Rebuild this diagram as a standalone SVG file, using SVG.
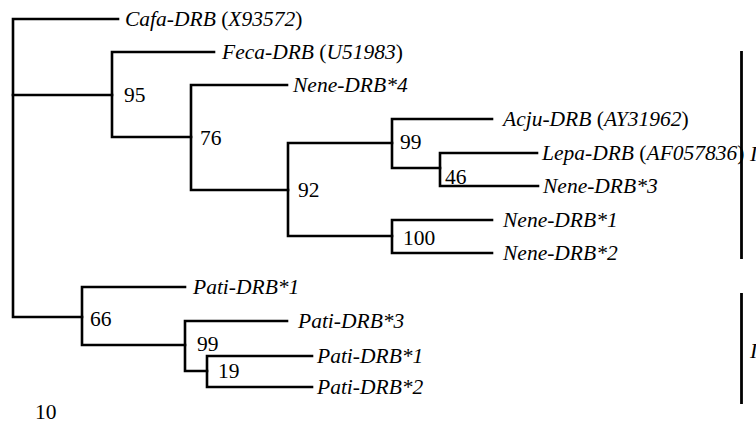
<svg xmlns="http://www.w3.org/2000/svg" width="756" height="423" viewBox="0 0 756 423">
<style>
.c{fill:none;stroke:#000;stroke-width:2.6;stroke-linejoin:miter;stroke-linecap:square}
.b{fill:none;stroke:#000;stroke-width:2.8}
text{font-family:"Liberation Serif","Times New Roman",serif;font-size:21.5px;fill:#000}
.i{font-style:italic}
</style>
<rect width="756" height="423" fill="#fff"/>
<g id="connectors">
<path class="c" d="M118,19H13V317H82"/>
<path class="c" d="M13,95H112"/>
<path class="c" d="M214,52H112V137H191"/>
<path class="c" d="M287,85H191V190H288"/>
<path class="c" d="M392,143H288V236H392"/>
<path class="c" d="M492,119H392V168H440"/>
<path class="c" d="M537,153H440V186H538"/>
<path class="c" d="M492,220H392V253H492"/>
<path class="c" d="M185,287H82V345H185"/>
<path class="c" d="M287,321H185V371H207"/>
<path class="c" d="M312,356H207V387H312"/>
</g>
<g id="brackets">
<path class="b" d="M741.5,51V259"/>
<path class="b" d="M741.5,293V404"/>
<text class="i" x="750" y="161">I</text>
<text class="i" x="750" y="358">I</text>
</g>
<g id="leaf-cafa"><text x="125" y="26"><tspan class="i">Cafa-DRB</tspan> (<tspan class="i">X93572</tspan>)</text></g>
<g id="leaf-feca"><text x="222" y="59"><tspan class="i">Feca-DRB</tspan> (<tspan class="i">U51983</tspan>)</text></g>
<g id="leaf-nene4"><text class="i" x="293" y="92">Nene-DRB*4</text></g>
<g id="leaf-acju"><text x="503" y="126"><tspan class="i">Acju-DRB</tspan> (<tspan class="i">AY31962</tspan>)</text></g>
<g id="leaf-lepa"><text x="542" y="160"><tspan class="i">Lepa-DRB</tspan> (<tspan class="i">AF057836</tspan>)</text></g>
<g id="leaf-nene3"><text class="i" x="543" y="193">Nene-DRB*3</text></g>
<g id="leaf-nene1"><text class="i" x="503" y="227">Nene-DRB*1</text></g>
<g id="leaf-nene2"><text class="i" x="503" y="260">Nene-DRB*2</text></g>
<g id="leaf-pati1a"><text class="i" x="193" y="294">Pati-DRB*1</text></g>
<g id="leaf-pati3"><text class="i" x="298" y="328">Pati-DRB*3</text></g>
<g id="leaf-pati1b"><text class="i" x="317" y="363">Pati-DRB*1</text></g>
<g id="leaf-pati2"><text class="i" x="317" y="394">Pati-DRB*2</text></g>
<g id="bs-95"><text x="124" y="102">95</text></g>
<g id="bs-76"><text x="200" y="145">76</text></g>
<g id="bs-92"><text x="298" y="197">92</text></g>
<g id="bs-99a"><text x="400" y="149">99</text></g>
<g id="bs-46"><text x="445" y="184">46</text></g>
<g id="bs-100"><text x="403" y="245">100</text></g>
<g id="bs-66"><text x="90" y="326">66</text></g>
<g id="bs-99b"><text x="197" y="351">99</text></g>
<g id="bs-19"><text x="218" y="378">19</text></g>
<g id="scale"><text x="35" y="419">10</text></g>
</svg>
